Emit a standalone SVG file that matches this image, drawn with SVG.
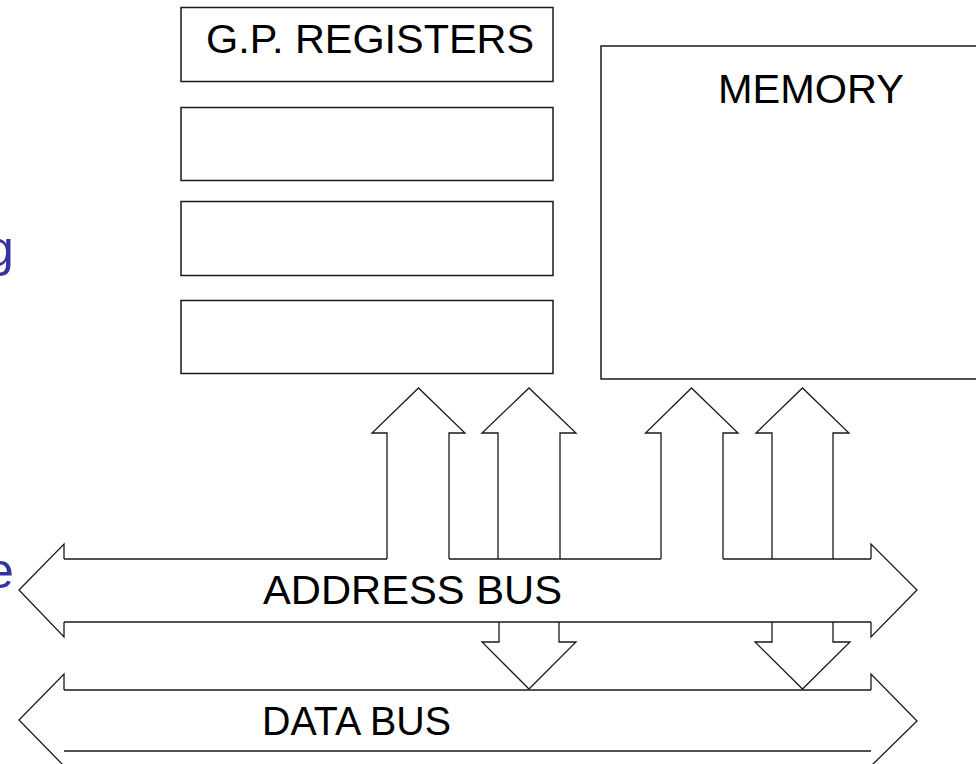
<svg xmlns="http://www.w3.org/2000/svg" width="976" height="764" viewBox="0 0 976 764">
  <style>
    .box { fill: #ffffff; stroke: #1a1a1a; stroke-width: 1.5; }
    .line { fill: none; stroke: #1a1a1a; stroke-width: 1.3; stroke-linejoin: miter; }
    .label { font-family: "Liberation Sans", Arial, sans-serif; font-size: 40px; fill: #000000; }
    .side { font-family: "Liberation Sans", Arial, sans-serif; font-size: 50px; fill: #3333a0; }
  </style>
  <rect width="976" height="764" fill="#ffffff"/>

  <!-- slide text running in from the left edge -->
  <g id="side-text">
    <text class="side" x="-14" y="266">g</text>
    <text class="side" x="-14" y="588">e</text>
  </g>

  <!-- general purpose registers -->
  <g id="registers">
    <rect class="box" x="181" y="7.5" width="372" height="74"/>
    <text class="label" x="206" y="53" textLength="328" lengthAdjust="spacingAndGlyphs">G.P. REGISTERS</text>
    <rect class="box" x="181" y="107.5" width="372" height="73"/>
    <rect class="box" x="181" y="201.5" width="372" height="74"/>
    <rect class="box" x="181" y="300.5" width="372" height="73"/>
  </g>

  <!-- memory block -->
  <g id="memory">
    <rect class="box" x="601" y="46" width="400" height="333"/>
    <text class="label" x="718" y="103" textLength="186" lengthAdjust="spacingAndGlyphs">MEMORY</text>
  </g>

  <!-- address bus -->
  <g id="address-bus">
    <path class="line" d="M64,559 V544 L19,590 L64,637 V622"/>
    <path class="line" d="M871,559 V544 L917,590 L871,637 V622"/>
    <path class="line" d="M64,559 H387 M449,559 H661 M723,559 H871 M64,622 H871"/>
    <text class="label" x="263" y="604" textLength="299" lengthAdjust="spacingAndGlyphs">ADDRESS BUS</text>
  </g>

  <!-- data bus -->
  <g id="data-bus">
    <path class="line" d="M64,690 V674 L19,720 L64,766"/>
    <path class="line" d="M871,690 V674 L917,721 L871,766"/>
    <path class="line" d="M64,690 H871 M64,751 H871"/>
    <text class="label" x="262" y="735" textLength="189" lengthAdjust="spacingAndGlyphs">DATA BUS</text>
  </g>

  <!-- bus connections -->
  <g id="connectors">
    <path class="line" d="M387,559 V433 H372 L418.5,388 L465,433 H449 V559"/>
    <path class="line" d="M498,559 V433 H482 L529,388 L576,433 H560 V559"/>
    <path class="line" d="M661,559 V433 H645.5 L691.5,388 L738,433 H723 V559"/>
    <path class="line" d="M772,559 V433 H756 L802.5,388 L849,433 H833 V559"/>
    <path class="line" d="M499,622 V642 H482 L529,689 L576,642 H559 V622"/>
    <path class="line" d="M772,622 V642 H755 L802.5,689 L850,642 H833 V622"/>
  </g>
</svg>
